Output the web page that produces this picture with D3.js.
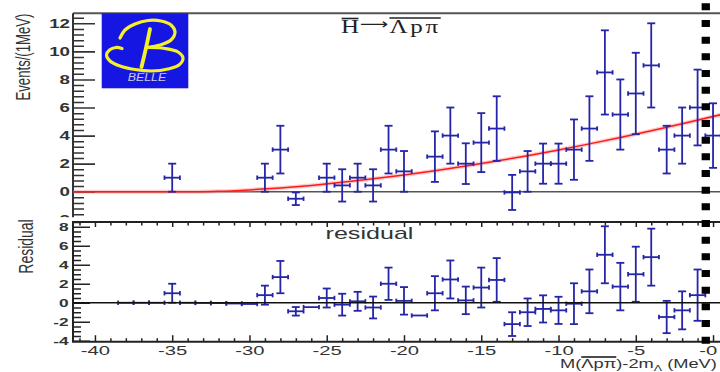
<!DOCTYPE html>
<html>
<head>
<meta charset="utf-8">
<script src="https://cdn.jsdelivr.net/npm/d3@7"></script>
<style>
  html, body { margin: 0; padding: 0; background: #fff; }
  svg { display: block; }
</style>
</head>
<body>
<svg id="chart" width="720" height="372"></svg>
<script>
// ---- data: 1 MeV bins of M(Λpπ) - 2m_Λ ----
const binCentres = [-38, -37, -36, -35, -34, -33, -32, -31, -30, -29, -28, -27, -26, -25, -24, -23, -22, -21, -20, -19,
                    -18, -17, -16, -15, -14, -13, -12, -11, -10, -9, -8, -7, -6, -5, -4, -3, -2, -1, 0];
const events     = [0, 0, 0, 1, 0, 0, 0, 0, 0, 1, 3, -0.5, 0, 1, 0.45, 1, 0.45, 3, 1.45, 0,
                    2.5, 4, 2, 3.5, 4.5, -0.05, 1.45, 2, 2, 3, 4.5, 8.5, 5.5, 7, 9, 3, 4, 6, 4];
const eventErr   = [0, 0, 0, 1, 0, 0, 0, 0, 0, 1, 1.7, 0.45, 0, 1, 1.15, 1, 1.15, 1.7, 1.45, 0,
                    1.8, 2, 1.45, 2.1, 2.3, 1.25, 1.45, 1.43, 1.43, 2.15, 2.3, 3, 2.5, 2.9, 3, 1.7, 2, 2.7, 2.3];

// residual panel (data minus fit)
const residBins  = [-38, -37, -36, -35, -34, -33, -32, -31, -30, -29, -28, -27, -26, -25, -24, -23, -22, -21, -20, -19,
                    -18, -17, -16, -15, -14, -13, -12, -11, -10, -9, -8, -7, -6, -5, -4, -3, -2, -1];
const residuals  = [0, 0, 0, 1, 0, -0.02, -0.04, -0.08, -0.13, 0.8, 2.7, -0.9, -0.46, 0.5, -0.2, 0.15, -0.5, 2.0, 0.2, -1.34,
                    1.0, 2.45, 0.25, 1.6, 2.4, -2.25, -1.0, -0.65, -0.8, -0.1, 1.2, 5.05, 1.7, 3.0, 4.8, -1.5, -0.8, 0.8];
const residErr   = [0, 0, 0, 1, 0, 0, 0, 0, 0, 1, 1.7, 0.45, 0, 1, 1.15, 1, 1.15, 1.7, 1.45, 0,
                    1.8, 2, 1.45, 2.1, 2.3, 1.25, 1.45, 1.43, 1.43, 2.15, 2.3, 3, 2.5, 2.9, 3, 1.7, 2, 2.7];

// background fit curve
const fitMass    = [-41.4, -33.5, -32, -30, -28, -26, -24, -22, -20, -18, -16, -14, -12, -10, -8, -6, -4, -2, 0.5];
const fitEvents  = [0, 0, 0.03, 0.13, 0.27, 0.45, 0.67, 0.92, 1.19, 1.5, 1.83, 2.19, 2.57, 2.98, 3.41, 3.86, 4.34, 4.84, 5.49];

// axis ticks
const massTicks  = [-40, -35, -30, -25, -20, -15, -10, -5, 0];
const eventTicks = [-2, 0, 2, 4, 6, 8, 10, 12];
const residTicks = [-4, -2, 0, 2, 4, 6, 8];
const thresholdMass = -0.47;

// ---- scales ----
const svg = d3.select("#chart");
const x    = d3.scaleLinear().domain([-41.42, 0.45]).range([73, 720]);
const yTop = d3.scaleLinear().domain([-2.2, 12.72]).range([222.6, 13.2]);
const yRes = d3.scaleLinear().domain([-4.1, 8.5]).range([341.7, 222]);

const SANS = "'Liberation Sans', Arial, Helvetica, sans-serif";
const SERIF = "'Liberation Serif', 'Times New Roman', serif";
const ink = "#333";
const blue = "#2525a8";
const STRETCH = 1.5;

const defs = svg.append("defs");
defs.append("clipPath").attr("id", "clipTop").append("rect")
  .attr("x", 73).attr("y", 13).attr("width", 647).attr("height", 206);
defs.append("clipPath").attr("id", "clipRes").append("rect")
  .attr("x", 73).attr("y", 222).attr("width", 647).attr("height", 120);
defs.append("clipPath").attr("id", "clipTopAxis").attr("clipPathUnits", "userSpaceOnUse").append("rect")
  .attr("x", -80).attr("y", 0).attr("width", 200).attr("height", 217.5);

function styleTickText(sel, size, weight, xOff) {
  sel.selectAll("text")
    .attr("x", xOff)
    .attr("transform", `scale(${STRETCH},1)`)
    .attr("font-size", size)
    .attr("font-weight", weight)
    .attr("font-family", SANS)
    .attr("fill", ink);
}

function drawErrorBars(g, bins, vals, errs, yScale, keepEmpty) {
  const pts = bins.map((b, i) => ({ b, v: vals[i], e: errs[i] }))
    .filter(d => keepEmpty || d.e > 0);
  const p = g.selectAll("g.pt").data(pts).join("g").attr("class", "pt")
    .attr("stroke", blue).attr("stroke-width", 1.8).attr("fill", "none");
  // horizontal bin-width bar with end caps
  p.append("line")
    .attr("x1", d => x(d.b - 0.5)).attr("x2", d => x(d.b + 0.5))
    .attr("y1", d => yScale(d.v)).attr("y2", d => yScale(d.v));
  p.append("line")
    .attr("x1", d => x(d.b - 0.5)).attr("x2", d => x(d.b - 0.5))
    .attr("y1", d => yScale(d.v) - 2.2).attr("y2", d => yScale(d.v) + 2.2);
  p.append("line")
    .attr("x1", d => x(d.b + 0.5)).attr("x2", d => x(d.b + 0.5))
    .attr("y1", d => yScale(d.v) - 2.2).attr("y2", d => yScale(d.v) + 2.2);
  // vertical error bar with caps
  const v = p.filter(d => d.e > 0);
  v.append("line")
    .attr("x1", d => x(d.b)).attr("x2", d => x(d.b))
    .attr("y1", d => yScale(d.v - d.e)).attr("y2", d => yScale(d.v + d.e));
  v.append("line")
    .attr("x1", d => x(d.b) - 4).attr("x2", d => x(d.b) + 4)
    .attr("y1", d => yScale(d.v + d.e)).attr("y2", d => yScale(d.v + d.e));
  v.append("line")
    .attr("x1", d => x(d.b) - 4).attr("x2", d => x(d.b) + 4)
    .attr("y1", d => yScale(d.v - d.e)).attr("y2", d => yScale(d.v - d.e));
}

// ================= upper panel: events =================
const topG = svg.append("g");

// y axis (ticks point into the frame); the part below the panel edge is hidden
const topAxis = topG.append("g").attr("clip-path", "url(#clipTopAxis)");
const yTopMinor = d3.range(-5, 32).map(i => +(i * 0.4).toFixed(2))
  .filter(v => Math.abs(v / 2 - Math.round(v / 2)) > 0.01);
const gTopMinor = topAxis.append("g").attr("transform", "translate(73,0)")
  .call(d3.axisLeft(yTop).tickValues(yTopMinor).tickSizeInner(-11).tickSizeOuter(0).tickFormat(""));
gTopMinor.select(".domain").remove();
gTopMinor.selectAll("line").attr("stroke", "#333").attr("stroke-width", 1.5);

const gTopMajor = topAxis.append("g").attr("transform", "translate(73,0)")
  .call(d3.axisLeft(yTop).tickValues(eventTicks).tickSizeInner(-22).tickSizeOuter(0).tickPadding(0)
    .tickFormat(d => String(d)));
gTopMajor.select(".domain").remove();
gTopMajor.selectAll("line").attr("stroke", "#333").attr("stroke-width", 1.6);
styleTickText(gTopMajor, 12.5, "bold", -2);

// frame
topG.append("line").attr("x1", 73).attr("x2", 720).attr("y1", 13.2).attr("y2", 13.2)
  .attr("stroke", "#555").attr("stroke-width", 2);
topG.append("line").attr("x1", 73).attr("x2", 73).attr("y1", 13.2).attr("y2", 217.5)
  .attr("stroke", "#333").attr("stroke-width", 2);

const topPlot = topG.append("g").attr("clip-path", "url(#clipTop)");
// zero line
topPlot.append("line").attr("x1", 73).attr("x2", 720).attr("y1", yTop(0)).attr("y2", yTop(0))
  .attr("stroke", "#555").attr("stroke-width", 1.6);

// fit curve
const fitLine = d3.line().x(d => x(d[0])).y(d => yTop(d[1])).curve(d3.curveMonotoneX);
const fitPts = d3.zip(fitMass, fitEvents);
topPlot.append("path").attr("d", fitLine(fitPts)).attr("fill", "none")
  .attr("stroke", "#ff8080").attr("stroke-opacity", 0.4).attr("stroke-width", 4);
topPlot.append("path").attr("d", fitLine(fitPts)).attr("fill", "none")
  .attr("stroke", "#ff1a1a").attr("stroke-width", 1.5);

drawErrorBars(topPlot.append("g"), binCentres, events, eventErr, yTop, false);

// title: anti-H -> anti-(Λ p π)
const title = topG.append("g").attr("transform", "translate(341,33) scale(1.32,1)");
const tText = title.append("text").attr("font-family", SERIF).attr("font-size", 19).attr("fill", "#222");
tText.append("tspan").text("H");
tText.append("tspan").attr("font-family", "'DejaVu Sans', sans-serif").attr("font-size", 15).attr("dy", -4.5)
  .attr("dx", 0.5).text("\u27F6");
tText.append("tspan").attr("dy", 4.5).attr("dx", 1).attr("letter-spacing", 2).text("\u039Bp\u03C0");
{
  const node = tText.node();
  const wH = node.getSubStringLength(0, 1);
  const s2 = node.getStartPositionOfChar(2).x;
  const e2 = node.getEndPositionOfChar(4).x;
  title.append("line").attr("x1", 0.5).attr("x2", wH - 0.5).attr("y1", -14.5).attr("y2", -14.5)
    .attr("stroke", "#222").attr("stroke-width", 1.6);
  title.append("line").attr("x1", s2).attr("x2", e2).attr("y1", -15).attr("y2", -15)
    .attr("stroke", "#222").attr("stroke-width", 1.6);
}

// Belle logo
const logo = topG.append("g");
logo.append("rect").attr("x", 101.7).attr("y", 13.3).attr("width", 86.6).attr("height", 75)
  .attr("fill", "#1616e2");
const curve = d3.line().curve(d3.curveCatmullRom.alpha(0.5));
const yellow = "#f4f02c";
logo.append("path")
  .attr("d", curve([[120, 38], [125, 30], [135, 24], [148, 20.5], [161, 21], [171, 25], [175, 32], [171, 40], [160, 45], [147, 47.5]]))
  .attr("fill", "none").attr("stroke", yellow).attr("stroke-width", 3.2).attr("stroke-linecap", "round");
logo.append("path")
  .attr("d", curve([[147, 47.5], [165, 48.5], [178, 52], [183, 58], [179, 65], [168, 69], [152, 71], [135, 69.5], [120, 66], [110, 61], [106.5, 55], [109.5, 50], [116, 47.5], [122, 48.5]]))
  .attr("fill", "none").attr("stroke", yellow).attr("stroke-width", 3.2).attr("stroke-linecap", "round");
logo.append("path")
  .attr("d", curve([[150, 29], [146, 48], [141.5, 67]]))
  .attr("fill", "none").attr("stroke", yellow).attr("stroke-width", 3.8).attr("stroke-linecap", "round");
logo.append("text").attr("x", 147).attr("y", 81).attr("text-anchor", "middle")
  .attr("font-family", SANS).attr("font-style", "italic").attr("font-size", 11.5)
  .attr("fill", "#c9c9dc").attr("transform", "translate(147,0) scale(1.08,1) translate(-147,0)")
  .text("BELLE");

// y title
svg.append("text")
  .attr("transform", "translate(22.5,57) rotate(-90) scale(0.94,1.5)")
  .attr("text-anchor", "middle").attr("dy", "0.35em")
  .attr("font-family", SANS).attr("font-size", 14).attr("fill", ink)
  .text("Events/(1MeV)");

// ================= lower panel: residual =================
svg.append("rect").attr("x", 0).attr("y", 217.5).attr("width", 720).attr("height", 372 - 217.5).attr("fill", "#fff");
const resG = svg.append("g");

// y axis
const yResMinor = d3.range(-8, 18).map(i => i * 0.5).filter(v => v % 2 !== 0);
const gResMinor = resG.append("g").attr("transform", "translate(73,0)")
  .call(d3.axisLeft(yRes).tickValues(yResMinor).tickSizeInner(-8).tickSizeOuter(0).tickFormat(""));
gResMinor.select(".domain").remove();
gResMinor.selectAll("line").attr("stroke", "#222").attr("stroke-width", 1.5);
const gResMajor = resG.append("g").attr("transform", "translate(73,0)")
  .call(d3.axisLeft(yRes).tickValues(residTicks).tickSizeInner(-17).tickSizeOuter(0).tickPadding(0)
    .tickFormat(d => String(d)));
gResMajor.select(".domain").remove();
gResMajor.selectAll("line").attr("stroke", "#222").attr("stroke-width", 1.6);
styleTickText(gResMajor, 11.5, "bold", -3);

// x axes (bottom with labels, top without)
const minorMass = d3.range(-41, 1).filter(v => v % 5 !== 0);
const gxMinorB = resG.append("g").attr("transform", `translate(0,${yRes.range()[0]})`)
  .call(d3.axisBottom(x).tickValues(minorMass).tickSizeInner(-3.5).tickSizeOuter(0).tickFormat(""));
gxMinorB.select(".domain").remove();
const gxMajorB = resG.append("g").attr("transform", `translate(0,${yRes.range()[0]})`)
  .call(d3.axisBottom(x).tickValues(massTicks).tickSizeInner(-6.5).tickSizeOuter(0).tickPadding(3.5)
    .tickFormat(d => d === 0 ? "-0" : String(d)));
gxMajorB.select(".domain").remove();
styleTickText(gxMajorB, 13.5, "normal", 0);
gxMajorB.selectAll("text").filter(d => d === 0).attr("x", -3.5);
const gxMinorT = resG.append("g").attr("transform", `translate(0,${yRes.range()[1]})`)
  .call(d3.axisTop(x).tickValues(minorMass).tickSizeInner(-3.5).tickSizeOuter(0).tickFormat(""));
gxMinorT.select(".domain").remove();
const gxMajorT = resG.append("g").attr("transform", `translate(0,${yRes.range()[1]})`)
  .call(d3.axisTop(x).tickValues(massTicks).tickSizeInner(-5).tickSizeOuter(0).tickFormat(""));
gxMajorT.select(".domain").remove();
resG.selectAll(".tick line").attr("stroke", "#222").attr("stroke-width", 1.5);

// frame
resG.append("path")
  .attr("d", `M720,${yRes.range()[1]} H73 V${yRes.range()[0]} H720`)
  .attr("fill", "none").attr("stroke", "#222").attr("stroke-width", 2);

const resPlot = resG.append("g").attr("clip-path", "url(#clipRes)");
drawErrorBars(resPlot.append("g"), residBins, residuals, residErr, yRes, true);
resPlot.append("line").attr("x1", 73).attr("x2", 720).attr("y1", yRes(0)).attr("y2", yRes(0))
  .attr("stroke", "#111").attr("stroke-width", 1.4);

resG.append("text")
  .attr("transform", "translate(369.5,238.7) scale(1.57,1)")
  .attr("text-anchor", "middle")
  .attr("font-family", SANS).attr("font-size", 16).attr("fill", ink)
  .text("residual");

// y title
svg.append("text")
  .attr("transform", "translate(25.5,246.5) rotate(-90) scale(1,1.45)")
  .attr("text-anchor", "middle").attr("dy", "0.35em")
  .attr("font-family", SANS).attr("font-size", 14).attr("fill", ink)
  .text("Residual");

// x title: M(anti-Λpπ) - 2m_Λ (MeV), stretched to span x = 560..717
const xt = svg.append("g");
const xText = xt.append("text").attr("font-family", SANS).attr("font-size", 12.5).attr("fill", ink);
xText.append("tspan").text("M(\u039Bp\u03C0)-2m");
xText.append("tspan").attr("font-size", 8.5).attr("dy", 2.5).text("\u039B");
xText.append("tspan").attr("dy", -2.5).text(" (MeV)");
{
  const node = xText.node();
  const w = node.getComputedTextLength();
  const sx = (717 - 560) / w;
  xt.attr("transform", `translate(560,368) scale(${sx},1)`);
  const s = node.getStartPositionOfChar(2).x;
  const e = node.getEndPositionOfChar(4).x;
  xt.append("line").attr("x1", s).attr("x2", e).attr("y1", -11).attr("y2", -11)
    .attr("stroke", "#111").attr("stroke-width", 1.6);
}

// threshold marker line
svg.append("line")
  .attr("x1", x(thresholdMass)).attr("x2", x(thresholdMass))
  .attr("y1", 3.3).attr("y2", 344)
  .attr("stroke", "#000").attr("stroke-width", 8.3).attr("stroke-dasharray", "7 9.67");
</script>
</body>
</html>
